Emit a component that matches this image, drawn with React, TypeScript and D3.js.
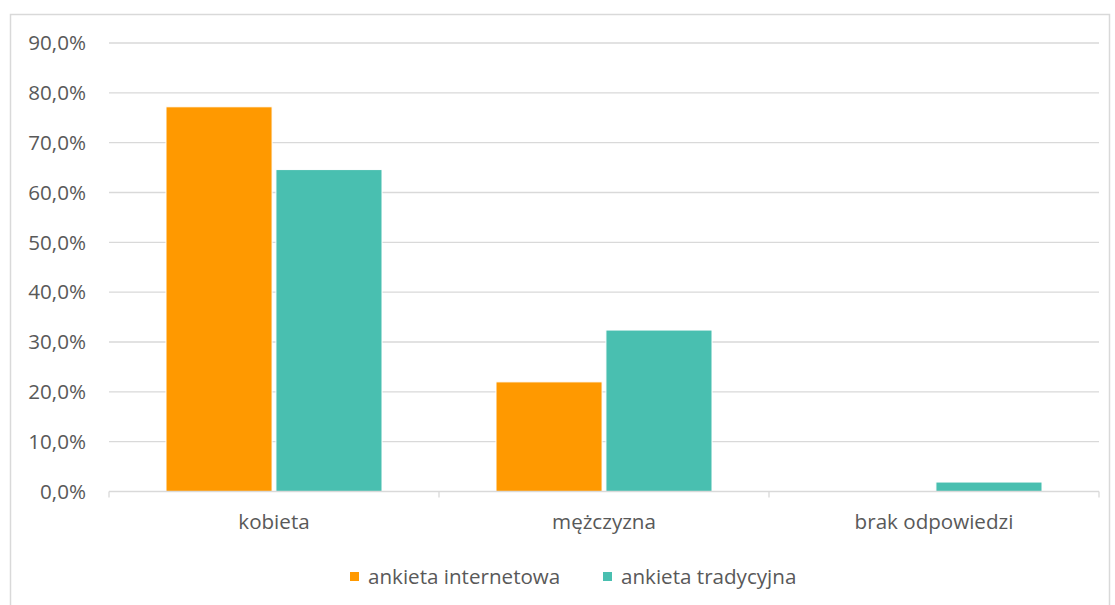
import React from "react";
import * as d3 from "d3";

const categories = ["kobieta", "mężczyzna", "brak odpowiedzi"];
const seriesNames = ["ankieta internetowa", "ankieta tradycyjna"];
const internetowa = [77.2, 22.0, 0];
const tradycyjna = [64.6, 32.4, 1.9];
const colors = ["#FF9900", "#49BFB0"];
const yTicks = [0, 10, 20, 30, 40, 50, 60, 70, 80, 90];

const W = 1115;
const H = 605;
const plot = { left: 109, right: 1099, top: 43, bottom: 491.5 };
const FONT = "'Open Sans', sans-serif";
const FS = 20.6;
const TXT = "#595959";

export default function App() {
  const x0 = d3.scaleBand<string>().domain(categories).range([plot.left, plot.right]).paddingInner(0).paddingOuter(0);
  const groupW = 216;
  const x1 = d3
    .scaleBand<string>()
    .domain(seriesNames)
    .range([(x0.bandwidth() - groupW) / 2, (x0.bandwidth() + groupW) / 2])
    .paddingInner(0.035);
  const y = d3.scaleLinear().domain([0, 90]).range([plot.bottom, plot.top]);
  const series = [internetowa, tradycyjna];
  const fmt = (v: number) => v.toFixed(1).replace(".", ",") + "%";

  return (
    <svg width={W} height={H} style={{ position: "absolute", left: 0, top: 0, background: "#fff" }}>
      <rect x={10.5} y={14.5} width={1099} height={600} fill="#fff" stroke="#d9d9d9" strokeWidth={1.5} />
      {yTicks.map((t) => (
        <g key={t}>
          {t > 0 && (
            <line x1={plot.left} x2={plot.right} y1={y(t)} y2={y(t)} stroke="#d9d9d9" strokeWidth={1.3} />
          )}
          <text x={86} y={y(t)} dy="0.35em" textAnchor="end" fontFamily={FONT} fontSize={FS} fill={TXT}>
            {fmt(t)}
          </text>
        </g>
      ))}
      {categories.map((c, i) => (
        <g key={c}>
          {series.map((s, j) =>
            s[i] > 0 ? (
              <rect
                key={j}
                x={(x0(c) as number) + (x1(seriesNames[j]) as number)}
                y={y(s[i])}
                width={x1.bandwidth()}
                height={y(0) - y(s[i])}
                fill={colors[j]}
                stroke="#fff"
                strokeWidth={1}
              />
            ) : null
          )}
          <text
            x={(x0(c) as number) + x0.bandwidth() / 2}
            y={522}
            dy="0.35em"
            textAnchor="middle"
            fontFamily={FONT}
            fontSize={FS}
            fill={TXT}
          >
            {c}
          </text>
        </g>
      ))}
      <line x1={plot.left} x2={plot.right} y1={y(0)} y2={y(0)} stroke="#d9d9d9" strokeWidth={1.3} />
      {[...categories.map((c) => x0(c) as number), plot.right].map((xx, i) => (
        <line key={i} x1={xx} x2={xx} y1={y(0)} y2={y(0) + 6} stroke="#d9d9d9" strokeWidth={1.3} />
      ))}
      {seriesNames.map((n, j) => {
        const lx = [350, 603][j];
        return (
          <g key={n}>
            <rect x={lx} y={572} width={9} height={9} fill={colors[j]} />
            <text x={lx + 18} y={577} dy="0.35em" fontFamily={FONT} fontSize={FS} fill={TXT}>
              {n}
            </text>
          </g>
        );
      })}
    </svg>
  );
}
